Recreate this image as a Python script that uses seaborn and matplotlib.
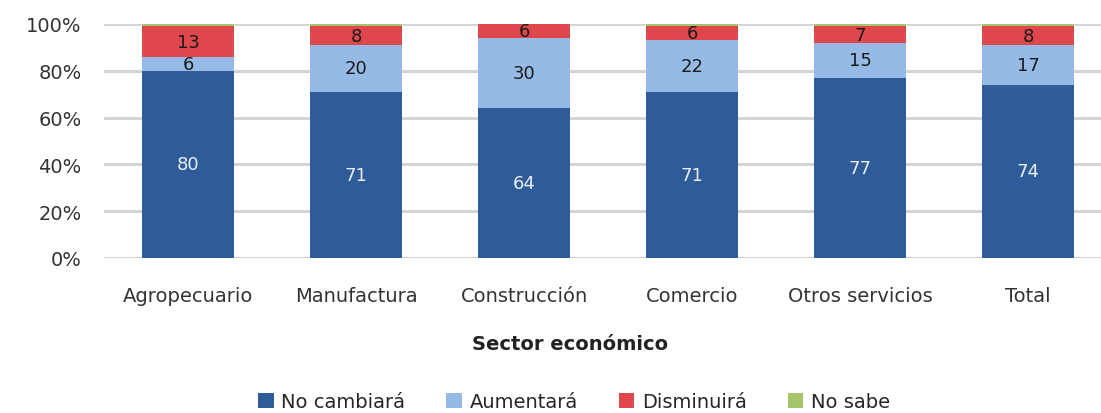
import matplotlib
matplotlib.use("Agg")
import matplotlib.pyplot as plt
import seaborn as sns
import numpy as np
import pandas as pd
from matplotlib.patches import Patch

sectors = ["Agropecuario", "Manufactura", "Construcción", "Comercio", "Otros servicios", "Total"]
series_names = ["No cambiará", "Aumentará", "Disminuirá", "No sabe"]
no_cambiara = [80, 71, 64, 71, 77, 74]
aumentara = [6, 20, 30, 22, 15, 17]
disminuira = [13, 8, 6, 6, 7, 8]
no_sabe = [1, 1, 0, 1, 1, 1]

colors = ["#2F5C99", "#96BAE6", "#E0474C", "#A6C46A"]
text_colors = ["#E8EEF8", "#1A1A1A", "#1A1A1A", "#1A1A1A"]

sns.set_theme(style="white")
plt.rcParams['font.family'] = ['DejaVu Sans']

layers = [no_cambiara, aumentara, disminuira, no_sabe]
cum = np.cumsum(np.array(layers, dtype=float), axis=0)

fig = plt.figure(figsize=(11.01, 4.14), dpi=100)
ax = fig.add_axes([104/1101, (414-259)/414, (1101-104)/1101, (259-25)/414])

for i in range(len(layers) - 1, -1, -1):
    df = pd.DataFrame({"sector": sectors, "value": cum[i]})
    sns.barplot(data=df, x="sector", y="value", color=colors[i], width=0.55,
                saturation=1, ax=ax, zorder=2, edgecolor="none")

for i, vals in enumerate(layers):
    for j, v in enumerate(vals):
        if v >= 3:
            ax.text(j, cum[i][j] - v / 2, f"{v}", ha="center", va="center",
                    fontsize=13, color=text_colors[i], zorder=3)

ax.set_xlim(-0.5, -0.5 + 997/168)
ax.set_ylim(0, 100)
ax.set_yticks(range(0, 101, 20))
ax.set_yticklabels([f"{t}%" for t in range(0, 101, 20)], fontsize=14, color="#333333")
ax.tick_params(axis="x", labelsize=14, colors="#333333", pad=14)
ax.tick_params(axis="y", pad=10)
ax.yaxis.grid(True, color="#D4D4D4", linewidth=2.2, zorder=0)
ax.set_axisbelow(True)
for s in ax.spines.values():
    s.set_visible(False)
ax.set_ylabel("")
ax.set_xlabel("Sector económico", fontsize=14, fontweight="bold", color="#222222")
ax.xaxis.set_label_coords((570 - 104) / 997, (259 - 345) / 234)
ax.xaxis.label.set_va("center")

handles = [Patch(facecolor=c, edgecolor="none") for c in colors]
fig.legend(handles, series_names, loc="center", bbox_to_anchor=(574/1101, 1 - 403/414),
           ncol=4, frameon=False, fontsize=14, handlelength=0.8, handleheight=0.8,
           columnspacing=2.1, handletextpad=0.4, borderaxespad=0, borderpad=0)

fig.savefig("out.png", dpi=100)
